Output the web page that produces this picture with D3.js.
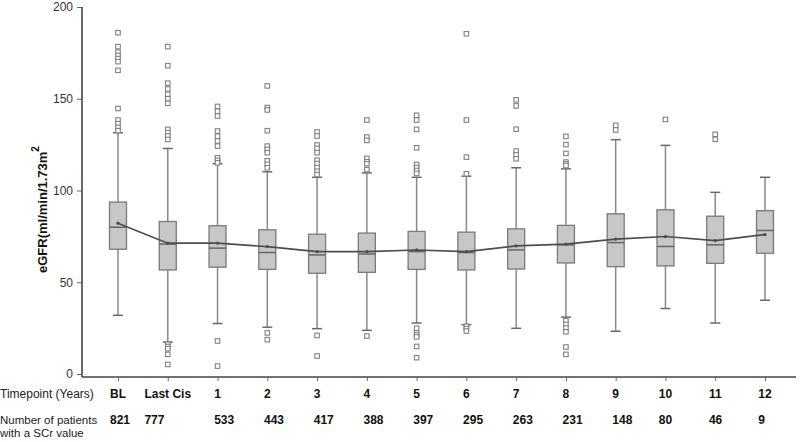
<!DOCTYPE html>
<html>
<head>
<meta charset="utf-8">
<script src="https://cdn.jsdelivr.net/npm/d3@7"></script>
<style>
  html, body { margin: 0; padding: 0; background: #fff; }
  svg { display: block; font-family: "Liberation Sans", Arial, sans-serif; }
</style>
</head>
<body>
<svg id="chart" width="800" height="442"></svg>
<script>
const categories = ["BL", "Last Cis", "1", "2", "3", "4", "5", "6", "7", "8", "9", "10", "11", "12"];
const counts = [821, 777, 533, 443, 417, 388, 397, 295, 263, 231, 148, 80, 46, 9];
const whiskerHigh = [131.5, 122.9, 114.6, 110.2, 107.2, 109.6, 107.2, 107.8, 112.4, 111.8, 127.7, 124.6, 99, 107.2];
const q3 = [93.7, 83.1, 80.8, 78.6, 76.2, 76.8, 77.7, 77.3, 79.1, 81, 87.3, 89.5, 86, 89];
const medians = [80, 70.8, 68.6, 66.2, 64.9, 65.4, 66.7, 66.2, 67.6, 70.4, 71.6, 69.5, 70.4, 78.2];
const q1 = [68, 56.7, 58.2, 57, 54.9, 55.4, 57, 56.7, 57.2, 60.5, 58.5, 58.9, 60.3, 65.8];
const whiskerLow = [32, 17.4, 27.5, 25.5, 24.7, 23.8, 27.8, 26.9, 24.9, 31, 23.3, 35.7, 27.8, 40.2];
const means = [82.2, 71.3, 71.3, 69.4, 66.7, 66.7, 67.6, 66.7, 69.8, 70.8, 73.5, 74.9, 72.7, 76];
const outliers = [
  [186, 178.4, 175.4, 173.6, 171.9, 170.2, 165.5, 144.7, 138.4, 136.4, 134.4, 132.6],
  [178.4, 168, 158.5, 155.3, 152.5, 150, 147.5, 133.3, 131.5, 129.7, 127.8, 16.2, 15, 13.8, 10.7, 5.2],
  [145.8, 143.2, 140.6, 132.4, 129.6, 127, 124.2, 117.8, 116.4, 115.1, 18, 4.3],
  [157, 145.2, 143.9, 132.6, 124.2, 122.4, 120.6, 116.2, 114.3, 112.4, 22.4, 18.7],
  [131.9, 129.7, 124.8, 123, 120.6, 116.5, 114.7, 112.4, 110.5, 108.7, 21, 9.8],
  [138.4, 129.1, 127.3, 117.5, 115.7, 114.6, 111.4, 20.7],
  [141, 138.4, 133.3, 123.3, 114.2, 112.5, 110.9, 109.3, 24.9, 22.4, 21.3, 20.2, 15, 8.9],
  [185.4, 138.4, 118.2, 109.1, 26, 24.7, 23.4],
  [149.4, 146.1, 133.4, 121.5, 119.4, 117.3],
  [129.5, 125, 120.2, 115.5, 114.5, 113.6, 29, 27, 25, 23, 14.7, 10.7],
  [135.5, 133],
  [138.7],
  [130.6, 127.9],
  []
];
const yTicks = [0, 50, 100, 150, 200];

const svg = d3.select("#chart");
const x = d3.scalePoint().domain(categories).range([118, 765]);
const y = d3.scaleLinear().domain([0, 200]).range([374, 7]);
const axisLeftX = 82, axisBottomY = 377, axisRightX = 796;
const boxW = 17, capW = 10, sq = 4.5;

const data = categories.map((c, i) => ({
  c, n: counts[i], hi: whiskerHigh[i], q3: q3[i], med: medians[i], q1: q1[i],
  lo: whiskerLow[i], mean: means[i], out: outliers[i]
}));

// Y axis
const yAxis = svg.append("g").attr("transform", `translate(${axisLeftX},0)`)
  .call(d3.axisLeft(y).tickValues(yTicks).tickSize(5).tickPadding(4).tickFormat(d3.format("d")));
yAxis.select(".domain").remove();
yAxis.selectAll(".tick line").attr("stroke", "#666").attr("stroke-width", 1);
yAxis.selectAll(".tick text").attr("fill", "#333").attr("font-size", 12)
  .attr("font-family", "'Liberation Sans', Arial, sans-serif");
svg.append("line").attr("x1", axisLeftX).attr("x2", axisLeftX).attr("y1", y(200)).attr("y2", axisBottomY)
  .attr("stroke", "#444").attr("stroke-width", 1.6);

// X axis
svg.append("line").attr("x1", axisLeftX).attr("x2", axisRightX).attr("y1", axisBottomY).attr("y2", axisBottomY)
  .attr("stroke", "#444").attr("stroke-width", 1.6);
const xAxis = svg.append("g").attr("transform", `translate(0,${axisBottomY})`)
  .call(d3.axisBottom(x).tickSize(4).tickFormat(""));
xAxis.select(".domain").remove();
xAxis.selectAll(".tick line").attr("stroke", "#666");

// Y label
const yl = svg.append("text").attr("transform", "translate(47,273) rotate(-90)")
  .attr("font-size", 13).attr("font-weight", "bold").attr("fill", "#111").attr("text-anchor", "start");
yl.append("tspan").text("eGFR(ml/min/1.73m");
yl.append("tspan").attr("dy", -8).attr("font-size", 10).text("2");

// Boxes
const g = svg.append("g");
const grp = g.selectAll("g.box").data(data).enter().append("g").attr("class", "box")
  .attr("transform", d => `translate(${x(d.c)},0)`);
grp.append("line").attr("x1", 0).attr("x2", 0).attr("y1", d => y(d.hi)).attr("y2", d => y(d.q3))
  .attr("stroke", "#8a8a8a").attr("stroke-width", 1.5);
grp.append("line").attr("x1", 0).attr("x2", 0).attr("y1", d => y(d.q1)).attr("y2", d => y(d.lo))
  .attr("stroke", "#8a8a8a").attr("stroke-width", 1.5);
grp.append("line").attr("x1", -capW / 2).attr("x2", capW / 2).attr("y1", d => y(d.hi)).attr("y2", d => y(d.hi))
  .attr("stroke", "#6a6a6a").attr("stroke-width", 1.5);
grp.append("line").attr("x1", -capW / 2).attr("x2", capW / 2).attr("y1", d => y(d.lo)).attr("y2", d => y(d.lo))
  .attr("stroke", "#6a6a6a").attr("stroke-width", 1.5);
grp.append("rect").attr("x", -boxW / 2).attr("width", boxW)
  .attr("y", d => y(d.q3)).attr("height", d => y(d.q1) - y(d.q3))
  .attr("fill", "#c7c7c7").attr("stroke", "#7a7a7a").attr("stroke-width", 1.3);
grp.append("line").attr("x1", -boxW / 2).attr("x2", boxW / 2).attr("y1", d => y(d.med)).attr("y2", d => y(d.med))
  .attr("stroke", "#666").attr("stroke-width", 1.5);
grp.selectAll("rect.out").data(d => d.out).enter().append("rect").attr("class", "out")
  .attr("x", -sq / 2).attr("width", sq).attr("y", v => y(v) - sq / 2).attr("height", sq)
  .attr("fill", "#fff").attr("stroke", "#808080").attr("stroke-width", 1.1);

// mean line
const line = d3.line().x(d => x(d.c)).y(d => y(d.mean));
svg.append("path").datum(data).attr("d", line).attr("fill", "none")
  .attr("stroke", "#4d4d4d").attr("stroke-width", 1.6);
svg.append("g").selectAll("circle").data(data).enter().append("circle")
  .attr("cx", d => x(d.c)).attr("cy", d => y(d.mean)).attr("r", 1.6).attr("fill", "#4d4d4d");

// bottom table
const tY1 = 398, tY2 = 423.5, tY3 = 437;
svg.append("text").attr("x", 0).attr("y", tY1).attr("font-size", 12).attr("fill", "#222").text("Timepoint (Years)");
svg.append("text").attr("x", 0).attr("y", tY2).attr("font-size", 11.5).attr("fill", "#222").text("Number of patients");
svg.append("text").attr("x", 0).attr("y", tY3).attr("font-size", 11.5).attr("fill", "#222").text("with a SCr value");

const catLabels = svg.append("g").selectAll("text").data(data).enter().append("text")
  .attr("x", d => x(d.c)).attr("y", tY1).attr("text-anchor", "middle")
  .attr("font-size", 12).attr("font-weight", "bold").attr("fill", "#111").text(d => d.c);
catLabels.each(function (d) { d.left = this.getBBox().x; });
svg.append("g").selectAll("text").data(data).enter().append("text")
  .attr("x", d => Math.max(d.left, 110)).attr("y", tY2).attr("text-anchor", "start")
  .attr("font-size", 12).attr("font-weight", "bold").attr("fill", "#111").text(d => d.n);
</script>
</body>
</html>
